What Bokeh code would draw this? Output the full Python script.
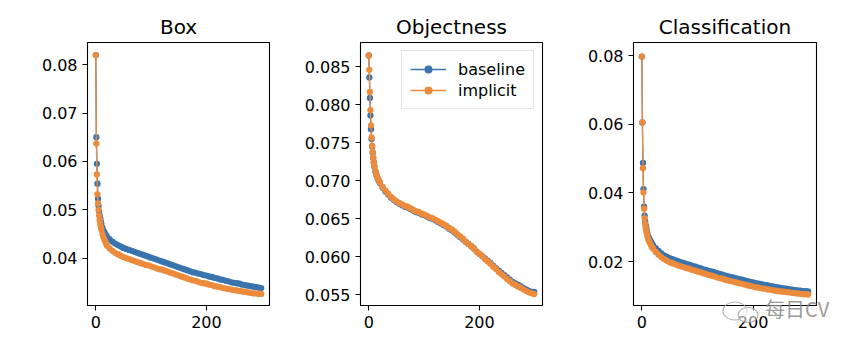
from bokeh.plotting import figure
from bokeh.layouts import row, column
from bokeh.models import FixedTicker, PrintfTickFormatter, Range1d, Div
from bokeh.embed import file_html
from bokeh.resources import INLINE

FONT = "DejaVu Sans"
BLUE = "#3a74ad"
ORANGE = "#ec8b3c"

epochs = [0, 1, 2, 3, 4, 5, 6, 7, 8, 9, 10,
          12, 14, 16, 18, 20,
          25, 30, 35, 40, 45, 50, 55, 60, 65, 70,
          75, 80, 85, 90, 95, 100, 105, 110, 115, 120,
          125, 130, 135, 140, 145, 150, 155, 160, 165, 170,
          175, 180, 185, 190, 195, 200, 205, 210, 215, 220,
          225, 230, 235, 240, 245, 250, 255, 260, 265, 270,
          275, 280, 285, 290, 295, 299]

box_baseline = [0.082, 0.065, 0.0595, 0.0554, 0.0523, 0.0508, 0.0497, 0.0489, 0.0482, 0.0476, 0.0471,
                0.0463, 0.0457, 0.0452, 0.0448, 0.0445,
                0.0439, 0.0434, 0.0430, 0.0427, 0.0424, 0.0421, 0.0419, 0.0417, 0.0415, 0.0413,
                0.0411, 0.0409, 0.0407, 0.0405, 0.0403, 0.0401, 0.0399, 0.0397, 0.0395, 0.0393,
                0.0391, 0.0389, 0.0387, 0.0385, 0.0383, 0.0381, 0.0379, 0.0377, 0.0375, 0.0373,
                0.0371, 0.0370, 0.0368, 0.0367, 0.0365, 0.0364, 0.0362, 0.0361, 0.0359, 0.0358,
                0.0356, 0.0355, 0.0353, 0.0352, 0.0350, 0.0349, 0.0348, 0.0347, 0.0345, 0.0344,
                0.0343, 0.0342, 0.0341, 0.0340, 0.0339, 0.0338]
box_implicit = [0.082, 0.0637, 0.0573, 0.0532, 0.0513, 0.0500, 0.0488, 0.0479, 0.0471, 0.0465, 0.0459,
                0.0450, 0.0443, 0.0437, 0.0432, 0.0426,
                0.0420, 0.0415, 0.0411, 0.0408, 0.0405, 0.0402, 0.0400, 0.0398, 0.0396, 0.0394,
                0.0392, 0.0390, 0.0388, 0.0386, 0.0385, 0.0383, 0.0381, 0.0379, 0.0377, 0.0376,
                0.0374, 0.0372, 0.0370, 0.0368, 0.0366, 0.0364, 0.0362, 0.0360, 0.0358, 0.0356,
                0.0354, 0.0353, 0.0351, 0.0349, 0.0348, 0.0347, 0.0345, 0.0344, 0.0342, 0.0341,
                0.0340, 0.0338, 0.0337, 0.0336, 0.0335, 0.0334, 0.0333, 0.0332, 0.0331, 0.0330,
                0.0329, 0.0328, 0.0327, 0.0327, 0.0326, 0.0326]

obj_baseline = [0.0865, 0.0836, 0.0809, 0.0786, 0.0768, 0.0755, 0.0745, 0.0737, 0.0730, 0.0724, 0.0719,
                0.0712, 0.0707, 0.0703, 0.0700, 0.0697,
                0.0691, 0.0686, 0.0682, 0.0678, 0.0675, 0.0672, 0.0670, 0.0668, 0.0666, 0.0665,
                0.0663, 0.0661, 0.0659, 0.0658, 0.0656, 0.0655, 0.0653, 0.0651, 0.0650, 0.0648,
                0.0646, 0.0644, 0.0642, 0.0640, 0.0637, 0.0635, 0.0632, 0.0629, 0.0626, 0.0623,
                0.0620, 0.0617, 0.0614, 0.0611, 0.0607, 0.0604, 0.0601, 0.0598, 0.0595, 0.0592,
                0.0588, 0.0585, 0.0582, 0.0579, 0.0576, 0.0573, 0.0570, 0.0567, 0.0565, 0.0563,
                0.0561, 0.0559, 0.0557, 0.0555, 0.0554, 0.0554]
obj_implicit = [0.0865, 0.0846, 0.0817, 0.0793, 0.0773, 0.0757, 0.0746, 0.0738, 0.0731, 0.0725, 0.0720,
                0.0713, 0.0708, 0.0704, 0.0701, 0.0698,
                0.0692, 0.0687, 0.0683, 0.0679, 0.0676, 0.0673, 0.0671, 0.0669, 0.0667, 0.0666,
                0.0664, 0.0662, 0.0660, 0.0659, 0.0657, 0.0656, 0.0654, 0.0652, 0.0651, 0.0649,
                0.0647, 0.0645, 0.0643, 0.0641, 0.0638, 0.0636, 0.0633, 0.0630, 0.0627, 0.0624,
                0.0620, 0.0617, 0.0614, 0.0611, 0.0607, 0.0604, 0.0601, 0.0597, 0.0594, 0.0591,
                0.0587, 0.0584, 0.0580, 0.0577, 0.0574, 0.0571, 0.0568, 0.0565, 0.0563, 0.0561,
                0.0559, 0.0557, 0.0555, 0.0553, 0.0552, 0.0551]

cls_baseline = [0.0797, 0.0605, 0.0487, 0.0411, 0.0360, 0.0334, 0.0318, 0.0306, 0.0297, 0.0289, 0.0282,
                0.0272, 0.0265, 0.0259, 0.0253, 0.0248,
                0.0239, 0.0231, 0.0224, 0.0218, 0.0214, 0.0210, 0.0207, 0.0204, 0.0201, 0.0198,
                0.0196, 0.0193, 0.0191, 0.0188, 0.0186, 0.0183, 0.0181, 0.0178, 0.0176, 0.0173,
                0.0171, 0.0169, 0.0166, 0.0164, 0.0162, 0.0159, 0.0157, 0.0155, 0.0153, 0.0151,
                0.0149, 0.0147, 0.0145, 0.0143, 0.0141, 0.0139, 0.0137, 0.0136, 0.0134, 0.0132,
                0.0131, 0.0129, 0.0128, 0.0126, 0.0125, 0.0123, 0.0122, 0.0121, 0.0120, 0.0118,
                0.0117, 0.0116, 0.0115, 0.0114, 0.0114, 0.0113]
cls_implicit = [0.0797, 0.0605, 0.0472, 0.0401, 0.0354, 0.0326, 0.0310, 0.0298, 0.0288, 0.0280, 0.0273,
                0.0263, 0.0256, 0.0249, 0.0243, 0.0238,
                0.0228, 0.0220, 0.0213, 0.0207, 0.0202, 0.0198, 0.0195, 0.0192, 0.0189, 0.0186,
                0.0184, 0.0181, 0.0179, 0.0176, 0.0174, 0.0171, 0.0169, 0.0166, 0.0164, 0.0161,
                0.0159, 0.0157, 0.0154, 0.0152, 0.0150, 0.0147, 0.0145, 0.0143, 0.0141, 0.0139,
                0.0137, 0.0135, 0.0133, 0.0131, 0.0129, 0.0127, 0.0125, 0.0124, 0.0122, 0.0121,
                0.0119, 0.0118, 0.0117, 0.0115, 0.0114, 0.0113, 0.0112, 0.0111, 0.0110, 0.0109,
                0.0108, 0.0107, 0.0106, 0.0105, 0.0105, 0.0104]

titles = ["Box", "Objectness", "Classification"]
series_names = ["baseline", "implicit"]
x_ticks = [0, 200]
box_ticks = [0.04, 0.05, 0.06, 0.07, 0.08]
obj_ticks = [0.055, 0.060, 0.065, 0.070, 0.075, 0.080, 0.085]
cls_ticks = [0.02, 0.04, 0.06, 0.08]
watermark = "每日CV"


def make(title, base, impl, yr, yticks, fmt, width, left, right, legend=False):
    p = figure(width=width, height=346, output_backend="svg", toolbar_location=None,
               x_range=Range1d(-15, 314), y_range=Range1d(*yr),
               min_border_left=left, min_border_right=right,
               min_border_top=42, min_border_bottom=41)
    p.title.text = title
    p.title.text_font = FONT
    p.title.text_font_size = "20px"
    p.title.text_font_style = "normal"
    p.title.align = "center"
    p.title.text_color = "black"
    p.title.standoff = 8
    kw_b = dict(legend_label=series_names[0]) if legend else {}
    kw_i = dict(legend_label=series_names[1]) if legend else {}
    p.line(epochs, base, line_color=BLUE, line_width=1.3, **kw_b)
    p.scatter(epochs, base, size=6.3, fill_color=BLUE, line_color=None, **kw_b)
    p.line(epochs, impl, line_color=ORANGE, line_width=1.3, **kw_i)
    p.scatter(epochs, impl, size=6.3, fill_color=ORANGE, line_color=None, **kw_i)
    p.xgrid.visible = False
    p.ygrid.visible = False
    p.outline_line_color = "black"
    p.outline_line_width = 1.1
    p.xaxis.ticker = FixedTicker(ticks=x_ticks)
    p.yaxis.ticker = FixedTicker(ticks=yticks)
    p.yaxis.formatter = PrintfTickFormatter(format=fmt)
    for ax in (p.xaxis[0], p.yaxis[0]):
        ax.axis_line_color = None
        ax.major_tick_line_color = "black"
        ax.major_tick_line_width = 1.1
        ax.major_tick_out = 5
        ax.major_tick_in = 0
        ax.minor_tick_line_color = None
        ax.major_label_text_font = FONT
        ax.major_label_text_font_size = "16px"
        ax.major_label_text_color = "black"
        ax.major_label_standoff = 5
    if legend:
        lg = p.legend[0]
        lg.location = "top_right"
        lg.margin = 8
        lg.padding = 8
        lg.spacing = 1
        lg.glyph_width = 36
        lg.glyph_height = 20
        lg.label_height = 20
        lg.label_standoff = 12
        lg.label_text_font = FONT
        lg.label_text_font_size = "16px"
        lg.label_text_color = "black"
        lg.border_line_color = "#cccccc"
        lg.border_line_width = 1
        lg.background_fill_alpha = 0.8
    return p


p1 = make(titles[0], box_baseline, box_implicit, (0.0302, 0.0846), box_ticks, "%.2f", 300, 87, 31)
p2 = make(titles[1], obj_baseline, obj_implicit, (0.0536, 0.0882), obj_ticks, "%.3f", 280, 60, 38, legend=True)
p3 = make(titles[2], cls_baseline, cls_implicit, (0.0072, 0.0838), cls_ticks, "%.2f", 278, 53, 42)

icon = ('<svg width="40" height="22" style="vertical-align:middle;margin-right:4px">'
        '<ellipse cx="14" cy="10" rx="12" ry="9" fill="none" stroke="#a8a8a8" stroke-width="1.2"/>'
        '<ellipse cx="27" cy="14" rx="10" ry="7.5" fill="white" fill-opacity="0.6" stroke="#a8a8a8" stroke-width="1.2"/>'
        '</svg>')
wm = Div(text=icon + "<span>" + watermark + "</span>", width=130, height=26, margin=(-50, 0, 0, 721),
         styles={"font-family": "Noto Sans CJK SC", "font-size": "20px",
                 "color": "#8a8a8a", "opacity": "0.85", "line-height": "26px",
                 "white-space": "nowrap"})

layout = column(row(p1, p2, p3), wm)
open("out.html", "w").write(file_html(layout, INLINE))
